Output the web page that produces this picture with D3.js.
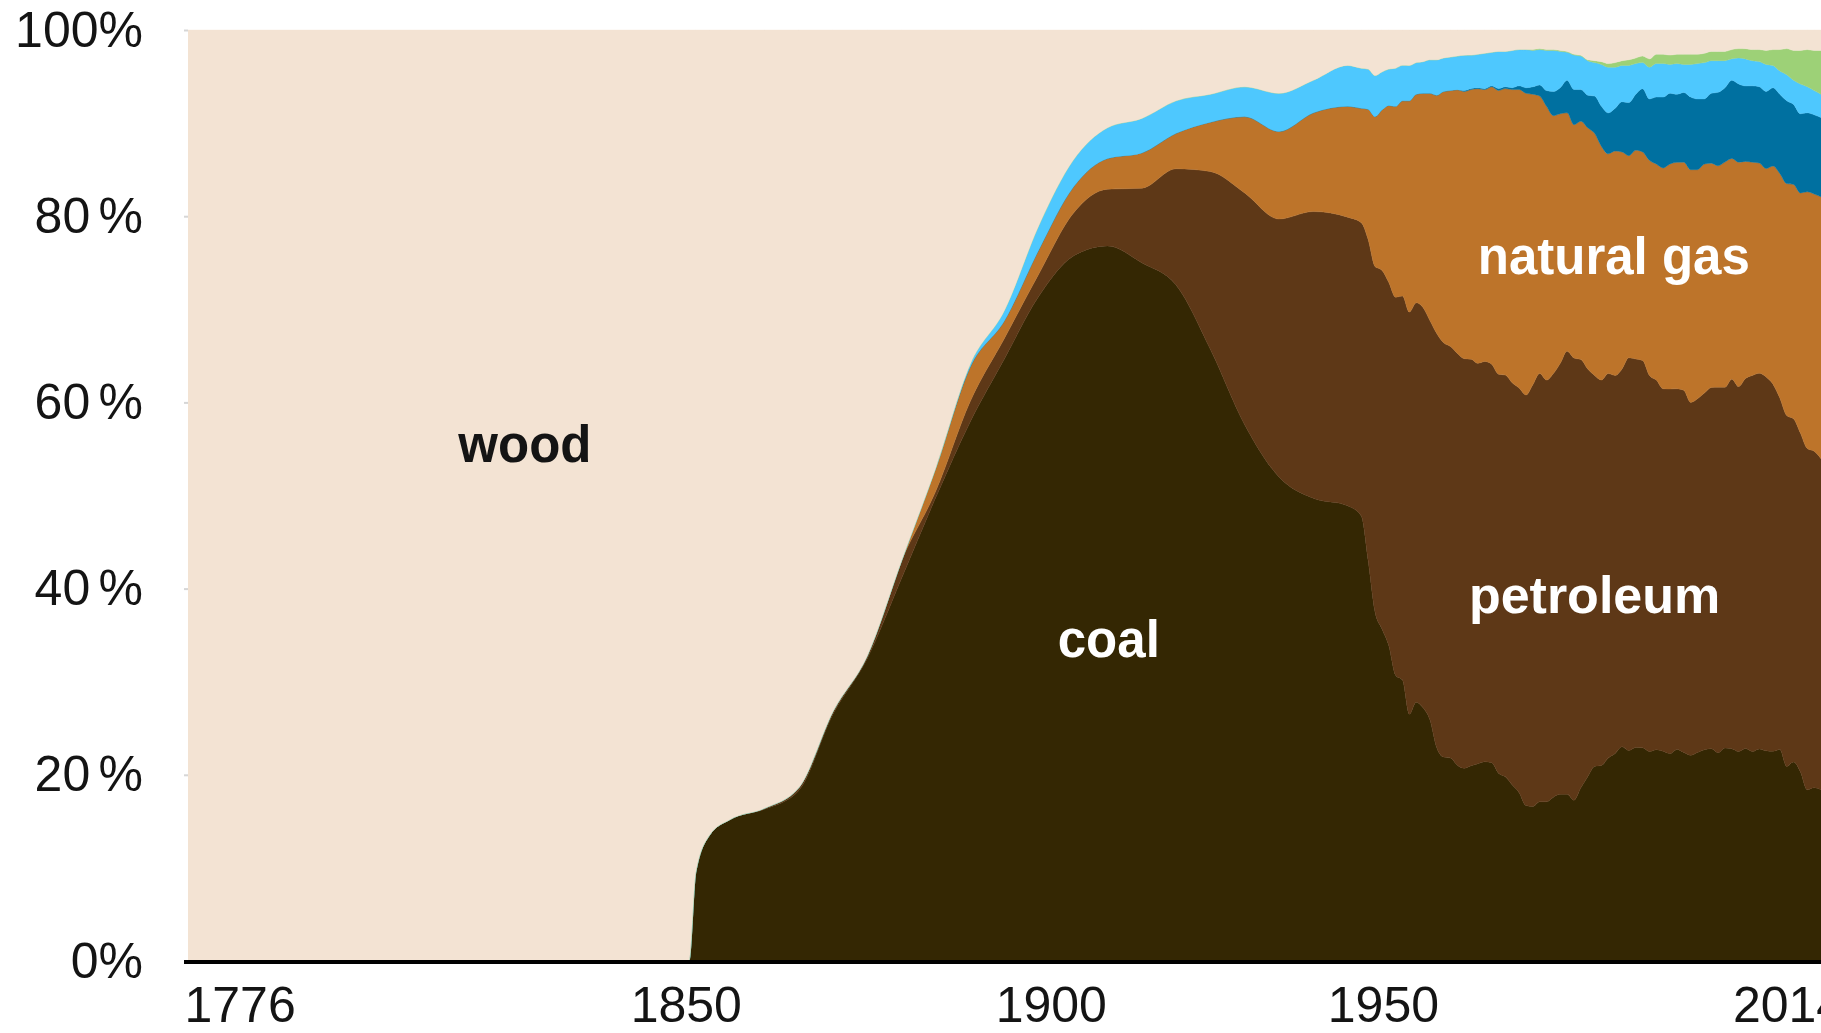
<!DOCTYPE html>
<html>
<head>
<meta charset="utf-8">
<script src="https://cdn.jsdelivr.net/npm/d3@7"></script>
<style>
  html, body { margin: 0; padding: 0; background: #ffffff; overflow: hidden; }
  svg { display: block; }
  text { font-family: "Liberation Sans", Arial, sans-serif; }
</style>
</head>
<body>
<svg id="chart" width="1821" height="1033"></svg>
<script>
// Share of U.S. primary energy consumption by source, percent of total.
// Five-year steps through 1945, yearly from 1947.
const years = [1776, 1849, 1850, 1852, 1855, 1860, 1865, 1870, 1875, 1880, 1885, 1890, 1895,
  1900, 1905, 1910, 1915, 1920, 1925, 1930, 1935, 1940, 1945, 1947, 1948,
  1949, 1950, 1951, 1952, 1953, 1954, 1955, 1956, 1957, 1958, 1959,
  1960, 1961, 1962, 1963, 1964, 1965, 1966, 1967, 1968, 1969,
  1970, 1971, 1972, 1973, 1974, 1975, 1976, 1977, 1978, 1979,
  1980, 1981, 1982, 1983, 1984, 1985, 1986, 1987, 1988, 1989,
  1990, 1991, 1992, 1993, 1994, 1995, 1996, 1997, 1998, 1999,
  2000, 2001, 2002, 2003, 2004, 2005, 2006, 2007, 2008, 2009,
  2010, 2011, 2012, 2013, 2014];

const coal = [0, 0, 9.5, 13.5, 15.2, 16.3, 18.3, 26.5, 32.5, 41.1, 49.8, 57.9, 64.7,
  71.4, 75.7, 76.8, 75.0, 72.6, 65.7, 57.6, 52.0, 49.7, 48.9, 47.8, 43.0,
  37.5, 35.7, 33.9, 30.7, 30.2, 26.5, 27.8, 27.2, 25.9, 22.9, 21.9,
  21.8, 21.0, 20.7, 21.0, 21.2, 21.4, 21.3, 20.2, 19.8, 18.9,
  18.1, 16.7, 16.6, 17.1, 17.1, 17.6, 17.9, 17.9, 17.3, 18.6,
  19.8, 20.9, 21.0, 21.8, 22.3, 23.0, 22.6, 22.9, 22.9, 22.5,
  22.7, 22.5, 22.3, 22.7, 22.4, 22.1, 22.4, 22.7, 22.8, 22.4,
  22.9, 22.8, 22.5, 22.8, 22.5, 22.8, 22.6, 22.5, 22.7, 20.9,
  21.4, 20.3, 18.4, 18.6, 18.4];

const petroleum = [0, 0, 0, 0, 0, 0.1, 0.3, 0.3, 0.3, 1.9, 0.7, 2.2, 2.2,
  2.4, 4.6, 6.1, 8.0, 12.5, 19.1, 24.9, 27.7, 30.8, 31.0, 31.5, 34.5,
  37.1, 38.5, 39.0, 40.6, 41.3, 43.2, 42.9, 43.0, 42.9, 44.5, 44.5,
  44.2, 44.2, 44.0, 43.7, 43.0, 43.0, 42.8, 42.9, 43.2, 43.2,
  43.5, 44.1, 45.3, 46.0, 45.3, 45.5, 46.3, 47.6, 47.6, 46.0,
  43.8, 42.0, 41.4, 41.3, 40.6, 40.6, 42.2, 41.7, 41.6, 40.4,
  39.7, 38.9, 39.2, 38.7, 38.9, 37.9, 38.0, 38.3, 38.8, 39.3,
  38.8, 39.7, 39.2, 39.7, 40.4, 40.4, 40.2, 39.4, 37.7, 37.7,
  36.9, 36.4, 36.7, 36.1, 35.5];

const naturalGas = [0, 0, 0, 0, 0, 0, 0, 0, 0, 0, 2.5, 3.7, 1.9,
  2.6, 2.8, 3.3, 3.8, 3.8, 5.3, 8.2, 9.4, 10.6, 11.9, 12.3, 14.0,
  16.1, 17.2, 19.0, 20.5, 21.0, 22.7, 22.4, 23.0, 24.4, 25.6, 27.0,
  27.5, 28.3, 28.7, 29.0, 29.5, 29.2, 29.8, 30.5, 30.8, 31.5,
  32.1, 32.4, 31.2, 29.8, 29.4, 27.7, 26.8, 25.6, 25.1, 25.6,
  25.9, 26.0, 25.1, 23.6, 24.1, 23.3, 21.7, 22.4, 22.4, 23.1,
  23.2, 23.7, 24.2, 24.3, 24.5, 25.0, 24.6, 24.6, 24.1, 23.8,
  24.2, 23.7, 24.1, 23.3, 22.9, 22.6, 22.4, 23.4, 24.1, 24.9,
  25.2, 25.8, 27.6, 27.6, 28.1];

const nuclear = [0, 0, 0, 0, 0, 0, 0, 0, 0, 0, 0, 0, 0,
  0, 0, 0, 0, 0, 0, 0, 0, 0, 0, 0, 0,
  0, 0, 0, 0, 0, 0, 0, 0, 0, 0, 0,
  0, 0, 0.1, 0.1, 0.1, 0.1, 0.1, 0.2, 0.2, 0.2,
  0.4, 0.6, 0.8, 1.2, 1.7, 2.6, 2.8, 3.5, 3.8, 3.4,
  3.5, 4.0, 4.3, 4.4, 4.6, 5.4, 5.7, 6.0, 6.8, 6.6,
  7.2, 7.6, 7.6, 7.3, 7.5, 7.8, 7.6, 7.0, 7.5, 7.9,
  8.0, 8.4, 8.4, 8.1, 8.2, 8.2, 8.3, 8.4, 8.5, 8.9,
  8.6, 8.5, 8.5, 8.5, 8.5];

const hydro = [0, 0, 0, 0, 0, 0, 0, 0, 0, 0, 0, 0.3, 1.1,
  2.6, 2.9, 3.3, 3.7, 3.5, 3.0, 3.2, 4.1, 3.5, 4.4, 4.3, 4.3,
  4.4, 4.1, 3.9, 4.1, 3.8, 3.8, 3.4, 3.4, 3.6, 3.8, 3.6,
  3.6, 3.6, 3.8, 3.6, 3.6, 3.8, 3.6, 4.0, 3.8, 4.0,
  3.9, 4.1, 3.9, 3.8, 4.3, 4.4, 3.9, 3.0, 3.7, 3.6,
  3.7, 3.6, 4.5, 4.9, 4.4, 3.9, 4.0, 3.3, 2.8, 3.4,
  3.6, 3.6, 3.1, 3.3, 3.0, 3.5, 3.8, 3.9, 3.5, 3.4,
  2.9, 2.3, 2.8, 2.9, 2.7, 2.7, 2.9, 2.4, 2.5, 2.8,
  2.6, 3.2, 2.8, 2.6, 2.5];

const otherRenewables = [0, 0, 0, 0, 0, 0, 0, 0, 0, 0, 0, 0, 0,
  0, 0, 0, 0, 0, 0, 0, 0, 0, 0, 0, 0,
  0, 0, 0, 0, 0, 0, 0, 0, 0, 0, 0,
  0, 0, 0, 0, 0, 0, 0, 0, 0, 0,
  0, 0, 0.1, 0.1, 0.1, 0.1, 0.1, 0.1, 0.1, 0.1,
  0.1, 0.2, 0.3, 0.4, 0.5, 0.5, 0.6, 0.6, 0.7, 0.9,
  1.0, 1.0, 1.0, 1.0, 1.1, 1.1, 1.0, 1.0, 1.0, 1.0,
  1.0, 1.0, 1.0, 1.1, 1.2, 1.3, 1.5, 1.7, 2.3, 2.8,
  3.2, 3.6, 4.0, 4.3, 4.7];

const wood = [100, 100, 90.5, 86.5, 84.8, 83.6, 81.4, 73.2, 67.2, 57.0, 47.0, 35.9, 30.1,
  21.0, 14.0, 10.5, 9.5, 7.6, 6.9, 6.1, 6.8, 5.4, 3.8, 4.1, 4.2,
  4.9, 4.5, 4.2, 4.1, 3.8, 3.8, 3.5, 3.4, 3.2, 3.2, 3.0,
  2.9, 2.8, 2.7, 2.7, 2.6, 2.5, 2.4, 2.3, 2.3, 2.2,
  2.1, 2.1, 2.1, 2.0, 2.1, 2.1, 2.2, 2.3, 2.6, 2.7,
  3.2, 3.3, 3.4, 3.6, 3.5, 3.3, 3.2, 3.0, 2.8, 3.1,
  2.6, 2.6, 2.7, 2.6, 2.6, 2.6, 2.6, 2.5, 2.3, 2.3,
  2.3, 2.1, 2.0, 2.0, 2.1, 2.1, 2.2, 2.1, 2.1, 2.0,
  2.2, 2.2, 2.1, 2.2, 2.2];

const sources = ["coal", "petroleum", "natural gas", "nuclear", "hydro", "other renewables", "wood"];
const sourceValues = [coal, petroleum, naturalGas, nuclear, hydro, otherRenewables, wood];
const yTicks = [0, 20, 40, 60, 80, 100];
const xTicks = [1776, 1850, 1900, 1950, 2014];

const colors = {
  "coal": "#342703",
  "petroleum": "#5e3817",
  "natural gas": "#bd742a",
  "nuclear": "#0070a0",
  "hydro": "#4ec8fe",
  "other renewables": "#9dd177",
  "wood": "#f3e3d3"
};

const W = 1821, H = 1033;
const plot = { left: 188, right: W, top: 30, bottom: 961 };

const x = d3.scaleLinear().domain([xTicks[0], xTicks[xTicks.length - 1]]).range([plot.left, plot.right]);
const y = d3.scaleLinear().domain([0, 100]).range([plot.bottom, plot.top]);

const rows = years.map((yr, i) => {
  const r = { year: yr };
  sources.forEach((s, k) => { r[s] = sourceValues[k][i]; });
  return r;
});

const layers = d3.stack().keys(sources).offset(d3.stackOffsetExpand)(rows);

const svg = d3.select("#chart");

svg.append("defs").append("clipPath").attr("id", "plotClip")
  .append("rect")
  .attr("x", plot.left).attr("y", plot.top - 1)
  .attr("width", plot.right - plot.left).attr("height", plot.bottom - plot.top + 1);

const area = d3.area()
  .curve(d3.curveMonotoneX)
  .x(d => x(d.data.year))
  .y0(d => y(d[0] * 100))
  .y1(d => y(d[1] * 100));

svg.append("g").attr("clip-path", "url(#plotClip)")
  .selectAll("path")
  .data(layers)
  .join("path")
  .attr("d", area)
  .attr("fill", d => colors[d.key])
  .attr("stroke", d => colors[d.key])
  .attr("stroke-width", 0.4);

// Value axis: short grey ticks, labels set well off to the left
const pctFormat = v => (v === 0 || v === 100) ? `${v}%` : `${v}\u2006%`;
svg.append("g")
  .attr("transform", `translate(${plot.left},0)`)
  .call(d3.axisLeft(y).tickValues(yTicks).tickSize(4).tickPadding(41).tickFormat(pctFormat))
  .call(g => g.select(".domain").remove())
  .call(g => g.selectAll(".tick line").attr("stroke", "#d6d6d6").attr("stroke-width", 2))
  .call(g => g.selectAll(".tick text")
    .attr("font-size", 50)
    .attr("fill", "#141414")
    .attr("font-family", "'Liberation Sans', Arial, sans-serif"));

// Year axis: heavy black baseline with hand-placed year labels
const labelShift = { 1776: -4, 1850: -10, 1900: 12, 1950: 1, 2014: -33 };
const xAxisG = svg.append("g")
  .attr("transform", `translate(0,${plot.bottom + 1})`)
  .call(d3.axisBottom(x).tickValues(xTicks).tickSize(0).tickSizeOuter(0).tickPadding(24).tickFormat(d3.format("d")))
  .call(g => g.select(".domain").remove());

xAxisG.selectAll(".tick text")
  .attr("font-size", 50)
  .attr("fill", "#141414")
  .attr("font-family", "'Liberation Sans', Arial, sans-serif")
  .attr("text-anchor", d => d === xTicks[0] ? "start" : "middle")
  .attr("dx", d => labelShift[d] || 0);

xAxisG.append("line")
  .attr("x1", plot.left - 4).attr("x2", W)
  .attr("y1", 0).attr("y2", 0)
  .attr("stroke", "#000").attr("stroke-width", 4);

// Series names written inside their bands
const bandLabels = [
  { text: "wood", year: 1825.1, pct: 53.6, fill: "#141414" },
  { text: "coal", year: 1910.2, pct: 32.7, fill: "#ffffff" },
  { text: "petroleum", year: 1981.0, pct: 37.4, fill: "#ffffff" },
  { text: "natural gas", year: 1983.8, pct: 73.8, fill: "#ffffff" }
];

svg.append("g")
  .selectAll("text")
  .data(bandLabels)
  .join("text")
  .attr("x", d => x(d.year))
  .attr("y", d => y(d.pct))
  .attr("text-anchor", "middle")
  .attr("font-size", d => d.text === "petroleum" ? 52 : 51)
  .attr("font-weight", "bold")
  .attr("fill", d => d.fill)
  .text(d => d.text);
</script>
</body>
</html>
